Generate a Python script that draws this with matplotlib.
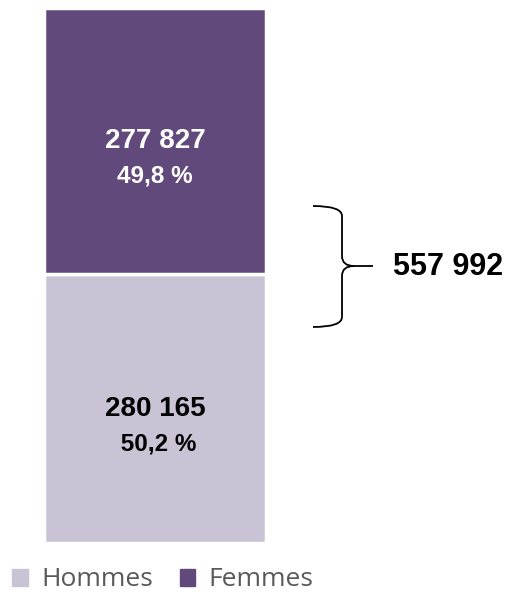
import matplotlib.pyplot as plt
from matplotlib.path import Path
from matplotlib.patches import PathPatch, Patch

# data
categories = ["Hommes", "Femmes"]
values = [280165, 277827]
pct_labels = [" 50,2 %", "49,8 %"]
total = sum(values)
colors = ["#cac3d6", "#614a7b"]
text_colors = ["#000000", "#ffffff"]

def fmt(n):
    return f"{n:,}".replace(",", " ")

W, H = 512, 596
fig = plt.figure(figsize=(W / 100, H / 100), dpi=100)

# bar axes (pixel box: x 44-266, y 8-543)
ax = fig.add_axes([44 / W, 1 - 543 / H, 222 / W, 535 / H])
bottom = 0
for cat, v, c, tc, p in zip(categories, values, colors, text_colors, pct_labels):
    ax.bar(0, v, width=1, bottom=bottom, color=c, edgecolor="white", linewidth=2.5)
    mid = bottom + v * 0.5
    ax.text(0, mid, fmt(v), ha="center", va="center", fontsize=20,
            fontweight="bold", color=tc, family="Liberation Sans")
    ax.text(0, mid - v * 0.13, p, ha="center", va="center", fontsize=17.5,
            fontweight="bold", color=tc, family="Liberation Sans")
    bottom += v
ax.set_xlim(-0.5, 0.5)
ax.set_ylim(0, total)
ax.axis("off")

# overlay in pixel coordinates for brace and total label
ov = fig.add_axes([0, 0, 1, 1])
ov.set_xlim(0, W)
ov.set_ylim(H, 0)
ov.axis("off")

x0, xv, xt, yt, yb, ym = 313, 342, 373, 206, 327, 266
verts = [(x0, yt), (xv, yt), (xv, yt + 10), (xv, ym - 10),
         (xv, ym), (xv + 12, ym), (xt, ym),
         (xv + 12, ym), (xv, ym), (xv, ym + 10),
         (xv, yb - 10), (xv, yb), (x0, yb)]
codes = [Path.MOVETO, Path.CURVE3, Path.CURVE3, Path.LINETO,
         Path.CURVE3, Path.CURVE3, Path.LINETO,
         Path.MOVETO, Path.CURVE3, Path.CURVE3,
         Path.LINETO, Path.CURVE3, Path.CURVE3]
ov.add_patch(PathPatch(Path(verts, codes), fill=False, lw=1.3, edgecolor="black"))
ov.text(448, 267, fmt(total), ha="center", va="center", fontsize=22,
        fontweight="bold", color="black", family="Liberation Sans")

handles = [Patch(color=c) for c in colors]
fig.legend(handles, categories, loc="center", bbox_to_anchor=(163 / W, 1 - 580 / H),
           ncol=2, frameon=False, handlelength=0.6, handleheight=0.6,
           handletextpad=0.5, columnspacing=1.0,
           prop={"family": "Open Sans", "size": 19}, labelcolor="#595959")

fig.savefig("out.png", dpi=100)
